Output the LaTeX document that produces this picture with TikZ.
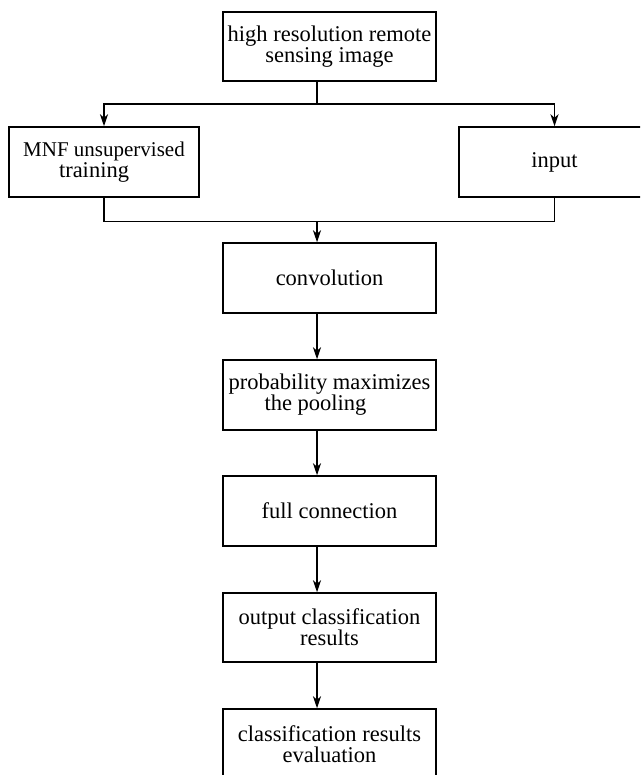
\documentclass[tikz,border=0pt]{standalone}
\usepackage{fontspec}
\setmainfont{Liberation Serif}
\usetikzlibrary{arrows.meta}
\begin{document}
\begin{tikzpicture}[x=1pt,y=-1pt,
  box/.style={draw=black,line width=1.5pt,minimum width=213pt,minimum height=70pt,
    inner sep=0pt,align=center,font=\fontsize{22.5}{21}\selectfont},
  sidebox/.style={box,minimum width=190pt},
  link/.style={draw=black,line width=1.5pt},
  arr/.style={link,-{Stealth[length=12pt,width=8pt,inset=3.5pt]}}]
\clip (0,0) rectangle (640,775);
\fill[white] (0,0) rectangle (640,775);
\node[box,minimum height=69pt] (top) at (329.5,46.5) {high resolution remote\\sensing image};
\node[sidebox] (left) at (104,162) {{\fontsize{21}{21}\selectfont MNF unsupervised}\\training\hspace*{20pt}};
\node[sidebox,minimum width=191pt] (right) at (554.5,162) {input};
\node[box] (conv) at (329.5,278) {convolution};
\node[box] (prob) at (329.5,395) {probability maximizes\\the pooling\hspace*{28pt}};
\node[box] (full) at (329.5,511) {full connection};
\node[box,minimum height=69pt] (out) at (329.5,627.5) {output classification\\results};
\node[box] (eval) at (329.5,744) {classification results\\evaluation};
\coordinate (sp) at (317,104);
\coordinate (mg) at (317,221.5);
\draw[link] (top.south -| sp) -- (sp);
\draw[arr] (sp) -| (left.north);
\draw[arr] (sp) -| (right.north);
\draw[link] (left.south) |- (mg);
\draw[link] (right.south) |- (mg);
\draw[arr] (mg) -- (conv.north -| mg);
\draw[arr] (conv.south -| sp) -- (prob.north -| sp);
\draw[arr] (prob.south -| sp) -- (full.north -| sp);
\draw[arr] (full.south -| sp) -- (out.north -| sp);
\draw[arr] (out.south -| sp) -- (eval.north -| sp);
\end{tikzpicture}
\end{document}
